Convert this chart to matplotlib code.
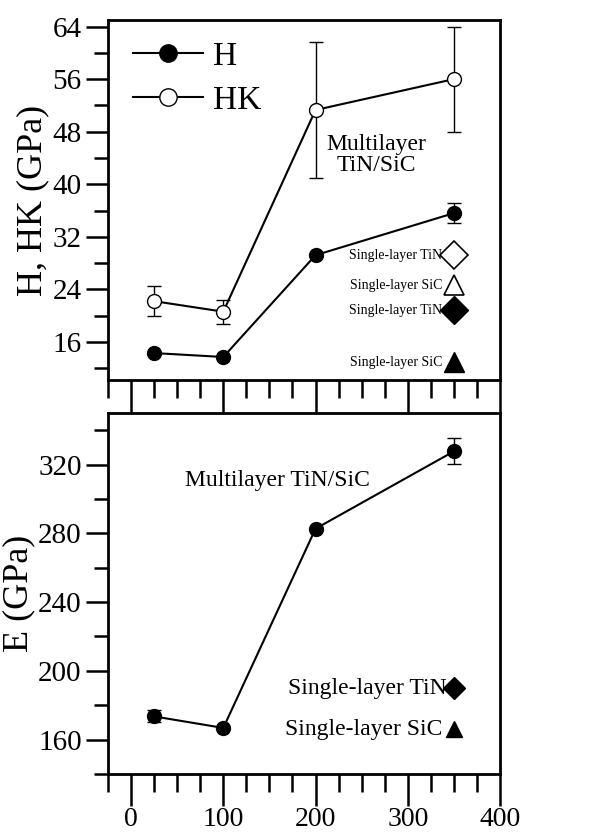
import numpy as np
import matplotlib
matplotlib.use("Agg")
from matplotlib import pyplot as plt
from matplotlib.ticker import MultipleLocator
from matplotlib.lines import Line2D

plt.rcParams['font.family'] = ['Liberation Serif', 'DejaVu Serif']

# temperature (x) values
temp = [25, 100, 200, 350]

# hardness data
H = [14.3, 13.7, 29.2, 35.6]
H_err = [0, 0, 0, 1.5]
HK = [22.2, 20.6, 51.3, 56.0]
HK_err = [2.3, 1.8, 10.4, 8.0]

# modulus data
E = [173.5, 166.8, 282.7, 327.7]
E_err = [3.5, 0, 0, 7.6]

# single-layer reference points (x, value)
single_x = 350
single_H = {'HK_TiN': 29.2, 'HK_SiC': 24.6, 'H_TiN': 20.8, 'H_SiC': 12.9}
single_E = {'TiN': 190.0, 'SiC': 166.0}

fig = plt.figure(figsize=(6.14, 8.33), dpi=100)
W, Hh = 614, 833
ax1 = fig.add_axes([108 / W, (Hh - 380) / Hh, 392 / W, 360 / Hh])
ax2 = fig.add_axes([108 / W, (Hh - 774) / Hh, 392 / W, 361 / Hh])

for ax in (ax1, ax2):
    ax.set_xlim(-25, 400)
    ax.xaxis.set_major_locator(MultipleLocator(100))
    ax.xaxis.set_minor_locator(MultipleLocator(25))
    ax.tick_params(which='major', direction='out', length=16, width=1.8, labelsize=21, pad=3)
    ax.tick_params(which='minor', direction='out', length=10, width=1.8)
    ax.tick_params(axis='x', which='major', length=23, labelsize=20, pad=1)
    ax.tick_params(axis='x', which='minor', length=13)
    ax.tick_params(top=False, right=False)
    for s in ax.spines.values():
        s.set_linewidth(2.0)

# ---- top panel ----
ax1.errorbar(temp, H, yerr=H_err, fmt='-o', color='black', mfc='black', ms=10,
             lw=1.5, elinewidth=1, capsize=5)
ax1.errorbar(temp, HK, yerr=HK_err, fmt='-o', color='black', mfc='white', ms=10,
             lw=1.5, elinewidth=1, capsize=5)
ax1.set_ylim(10.2, 65)
ax1.yaxis.set_major_locator(MultipleLocator(8))
ax1.yaxis.set_minor_locator(MultipleLocator(4))
ax1.tick_params(axis='x', labelbottom=False)
ax1.set_ylabel('H, HK (GPa)', fontsize=26, labelpad=2)

handles = [Line2D([], [], color='black', lw=1.5, marker='o', ms=12.5, mfc='black'),
           Line2D([], [], color='black', lw=1.5, marker='o', ms=12.5, mfc='white')]
ax1.legend(handles, ['H', 'HK'], loc='upper left', bbox_to_anchor=(0.064, 0.94),
           frameon=False, fontsize=24, handlelength=2.1, handletextpad=0.3,
           labelspacing=0.4, borderpad=0, borderaxespad=0)

ax1.text(266, 44.5, 'Multilayer\nTiN/SiC', ha='center', va='center', fontsize=17,
         linespacing=1.0)

ax1.plot(single_x, single_H['HK_TiN'], marker='D', ms=14, mfc='white', mec='black', mew=1.2)
ax1.plot(single_x, single_H['HK_SiC'], marker='^', ms=15, mfc='white', mec='black', mew=1.2)
ax1.plot(single_x, single_H['H_TiN'], marker='D', ms=14, mfc='black', mec='black')
ax1.plot(single_x, single_H['H_SiC'], marker='^', ms=15, mfc='black', mec='black')
for key, lab in [('HK_TiN', 'Single-layer TiN'), ('HK_SiC', 'Single-layer SiC'),
                 ('H_TiN', 'Single-layer TiN'), ('H_SiC', 'Single-layer SiC')]:
    ax1.text(337, single_H[key], lab, ha='right', va='center', fontsize=10)

# ---- bottom panel ----
ax2.errorbar(temp, E, yerr=E_err, fmt='-o', color='black', mfc='black', ms=10,
             lw=1.5, elinewidth=1, capsize=5)
ax2.set_ylim(140, 350)
ax2.yaxis.set_major_locator(MultipleLocator(40))
ax2.yaxis.set_minor_locator(MultipleLocator(20))
ax2.set_ylabel('E (GPa)', fontsize=26, labelpad=2)
ax2.text(159, 310.5, 'Multilayer TiN/SiC', ha='center', va='center', fontsize=17)

ax2.plot(single_x, single_E['TiN'], marker='D', ms=11, mfc='black', mec='black')
ax2.plot(single_x, single_E['SiC'], marker='^', ms=12, mfc='black', mec='black')
ax2.text(342, single_E['TiN'], 'Single-layer TiN', ha='right', va='center', fontsize=17)
ax2.text(337, single_E['SiC'], 'Single-layer SiC', ha='right', va='center', fontsize=17)

fig.savefig('out.png', dpi=100)
